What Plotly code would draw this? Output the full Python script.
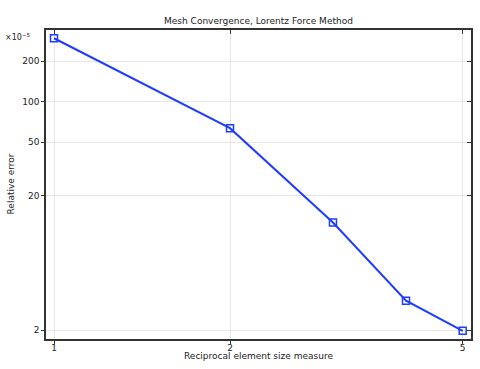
import plotly.graph_objects as go

x_vals = [1, 2, 3, 4, 5]
rel_err = [297, 63.7, 12.65, 3.32, 1.98]  # in units of 1e-5
x_ticks = [1, 2, 5]
y_ticks = [2, 20, 50, 100, 200]

title = "Mesh Convergence, Lorentz Force Method"
xlabel = "Reciprocal element size measure"
ylabel = "Relative error"

font = dict(family="DejaVu Sans", size=9, color="#222")
blue = "#1f3cff"

xr = [-0.0137, 0.7132]
yr = [0.236, 2.534]

fig = go.Figure()
fig.add_trace(go.Scatter(
    x=x_vals, y=rel_err, mode="lines+markers",
    line=dict(color=blue, width=2),
    marker=dict(symbol="square-open", size=7, color=blue, line=dict(width=1.5, color=blue)),
    showlegend=False,
))

fig.update_layout(
    width=480, height=369,
    margin=dict(l=46, r=9, t=30, b=30),
    paper_bgcolor="white", plot_bgcolor="white",
    font=font,
    title=dict(text=title, x=0.5385, xanchor="center", y=0.943, yanchor="middle",
               font=dict(family="DejaVu Sans", size=9, color="#222")),
    xaxis=dict(type="log", range=xr, tickvals=x_ticks, ticktext=[str(v) for v in x_ticks],
               showgrid=True, gridcolor="#e6e6e6", gridwidth=1,
               showline=True, linecolor="#333", linewidth=1.5,
               ticks="outside", ticklen=3, tickcolor="#333", automargin=False,
               ticklabelstandoff=-4, zeroline=False),
    yaxis=dict(type="log", range=yr, tickvals=y_ticks, ticktext=[str(v) for v in y_ticks],
               showgrid=True, gridcolor="#e6e6e6", gridwidth=1,
               showline=True, linecolor="#333", linewidth=1.5,
               ticks="outside", ticklen=3, tickcolor="#333", automargin=False,
               zeroline=False),
    xaxis2=dict(type="log", range=xr, overlaying="x", side="top", tickvals=x_ticks,
                showticklabels=False, showgrid=False, showline=True, linecolor="#333",
                linewidth=1.5, ticks="inside", ticklen=4, tickcolor="#333", automargin=False),
    yaxis2=dict(type="log", range=yr, overlaying="y", side="right", tickvals=y_ticks,
                showticklabels=False, showgrid=False, showline=True, linecolor="#333",
                linewidth=1.5, ticks="inside", ticklen=4, tickcolor="#333", automargin=False),
)
fig.add_trace(go.Scatter(x=[x_vals[0]], y=[rel_err[0]], xaxis="x2", yaxis="y2",
                         mode="markers", marker=dict(opacity=0), showlegend=False, hoverinfo="skip"))

fig.add_annotation(text="×10<sup>−5</sup>", xref="paper", yref="paper", x=-0.03, y=1.0,
                   xanchor="right", yanchor="top", showarrow=False,
                   font=dict(family="DejaVu Sans", size=8, color="#222"))
fig.add_annotation(text=xlabel, xref="paper", yref="paper", x=0.5, y=0,
                   xanchor="center", yanchor="middle", yshift=-17, showarrow=False,
                   font=dict(family="DejaVu Sans", size=9, color="#222"))
fig.add_annotation(text=ylabel, xref="paper", yref="paper", x=0, y=0.5, textangle=-90,
                   xanchor="center", yanchor="middle", xshift=-36, showarrow=False,
                   font=dict(family="DejaVu Sans", size=9, color="#222"))

fig.write_html("out.html")
